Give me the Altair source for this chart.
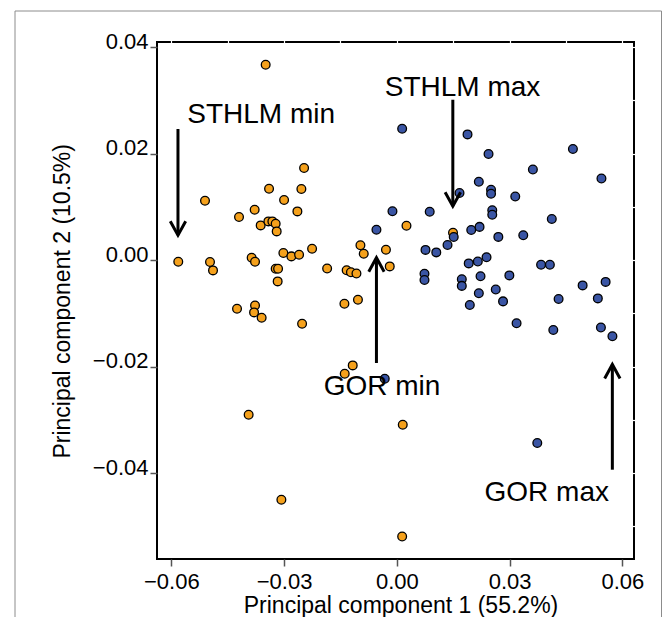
import altair as alt
import pandas as pd

# ---------------- data ----------------
orange_x = [-0.03489, -0.02467, -0.03399, -0.02539, -0.05103, -0.02999, -0.03782, -0.02645,
            -0.04198, -0.03622, -0.03417, -0.03311, -0.03223, -0.03196, -0.05814, -0.04970,
            -0.04890, -0.03862, -0.03772, -0.03018, -0.02805, -0.02600, -0.03223, -0.03159,
            -0.03170, -0.04251, -0.03772, -0.03798, -0.03596, -0.02520, -0.03942, -0.03071,
            0.00257, -0.02254, -0.00968, -0.00880, -0.00289, -0.00188, -0.01854, -0.01335,
            -0.01221, -0.01074, -0.01394, -0.01034, -0.01173, -0.01386, 0.00158, 0.00142,
            0.01495]
orange_y = [0.03668, 0.01728, 0.01339, 0.01333, 0.01114, 0.01127, 0.00945, 0.00913,
            0.00808, 0.00650, 0.00725, 0.00725, 0.00682, 0.00537, -0.00032, -0.00038,
            -0.00195, 0.00043, -0.00032, 0.00131, 0.00068, 0.00100, -0.00163, -0.00163,
            -0.00402, -0.00915, -0.00853, -0.00984, -0.01084, -0.01196, -0.02905, -0.04501,
            0.00644, 0.00212, 0.00278, 0.00118, 0.00193, -0.00120, -0.00158, -0.00192,
            -0.00229, -0.00252, -0.00821, -0.00746, -0.01979, -0.02135, -0.03093, -0.05191,
            0.00513]

blue_x = [0.00142, 0.01881, 0.02440, 0.04685, 0.03620, 0.05444, 0.02182, 0.02507,
          0.02507, 0.01668, 0.03151, -0.00116, 0.00875, 0.02539, 0.02539, 0.04123,
          -0.00542, 0.01514, 0.01980, 0.02201, 0.02701, 0.03364, 0.01349, 0.00763,
          0.01050, 0.01913, 0.02155, 0.02387, 0.03838, 0.04072, 0.00736, 0.00736,
          0.01729, 0.01729, 0.02227, 0.02994, 0.04943, 0.05555, 0.02182, 0.02632,
          0.02826, 0.01942, 0.04304, 0.05348, 0.03186, 0.04163, 0.05430, 0.05736,
          -0.00321, 0.03737]
blue_y = [0.02466, 0.02359, 0.01992, 0.02085, 0.01700, 0.01532, 0.01470, 0.01320,
          0.01245, 0.01258, 0.01192, 0.00916, 0.00907, 0.00935, 0.00851, 0.00770,
          0.00569, 0.00432, 0.00565, 0.00622, 0.00434, 0.00466, 0.00282, 0.00190,
          0.00143, -0.00064, -0.00028, 0.00053, -0.00088, -0.00088, -0.00257, -0.00374,
          -0.00361, -0.00486, -0.00304, -0.00289, -0.00477, -0.00411, -0.00623, -0.00554,
          -0.00777, -0.00845, -0.00732, -0.00721, -0.01187, -0.01313, -0.01266, -0.01431,
          -0.02229, -0.03437]

x_ticks = [-0.06, -0.03, 0.0, 0.03, 0.06]
y_ticks = [-0.04, -0.02, 0.0, 0.02, 0.04]
x_minor = [-0.06, -0.045, -0.03, -0.015, 0.0, 0.015, 0.03, 0.045, 0.06]
y_minor = [-0.05, -0.04, -0.03, -0.02, -0.01, 0.0, 0.01, 0.02, 0.03, 0.04]

label_text = ["STHLM min", "STHLM max", "GOR min", "GOR max"]
label_x = [-0.05574, -0.00321, -0.01945, 0.02334]
label_y = [0.02573, 0.03085, -0.02530, -0.04520]

arrow_x = [-0.05822, 0.01490, -0.00542, 0.05734]
arrow_start = [0.02460, 0.03010, -0.01934, -0.03938]
arrow_tip = [0.00466, 0.01010, 0.00043, -0.01961]
arrow_dir = ["down", "down", "up", "up"]

# ---------------- tables ----------------
points = pd.DataFrame({
    "pc1": orange_x + blue_x,
    "pc2": orange_y + blue_y,
    "group": ["orange"] * len(orange_x) + ["blue"] * len(blue_x),
})
labels = pd.DataFrame({"label": label_text, "x": label_x, "y": label_y})
arrows = pd.DataFrame({"x": arrow_x, "y1": arrow_start, "y2": arrow_tip, "dir": arrow_dir})

FONT = "Liberation Sans"
xs = alt.Scale(domain=[-0.0638, 0.0631], nice=False, zero=False)
ys = alt.Scale(domain=[-0.05615, 0.04094], nice=False, zero=False)

frame = alt.Chart(pd.DataFrame({"a": [0]})).mark_rect(
    fillOpacity=0, stroke="#8c8c8c", strokeWidth=1
).encode(x=alt.value(-142), x2=alt.value(504.5), y=alt.value(-31), y2=alt.value(600))

pts = alt.Chart(points).mark_circle(
    size=76, stroke="black", strokeWidth=1.3, opacity=1
).encode(
    x=alt.X("pc1:Q", scale=xs, axis=alt.Axis(
        orient="bottom", values=x_ticks, format=".2f", labelFlush=False,
        labelBaseline="alphabetic", labelPadding=22,
        title="Principal component 1 (55.2%)", titleX=243.5, titleY=53.5,
        titleBaseline="alphabetic")),
    y=alt.Y("pc2:Q", scale=ys, axis=alt.Axis(
        orient="left", values=y_ticks, format=".2f",
        labelBaseline="alphabetic", labelOffset=1, labelPadding=2,
        title="Principal component 2 (10.5%)", titleX=-88, titleY=258.8,
        titleBaseline="alphabetic")),
    color=alt.Color("group:N", scale=alt.Scale(domain=["orange", "blue"],
                                               range=["#F5A11C", "#3A55A4"]), legend=None),
)

txt = alt.Chart(labels).mark_text(
    align="left", baseline="alphabetic", fontSize=28, font=FONT, color="black"
).encode(
    x=alt.X("x:Q", scale=xs, axis=None),
    y=alt.Y("y:Q", scale=ys, axis=None),
    text="label:N",
)

shafts = alt.Chart(arrows).mark_rule(strokeWidth=3, color="black", strokeCap="butt").encode(
    x=alt.X("x:Q", scale=xs, axis=alt.Axis(
        orient="top", values=x_minor, labels=False, domain=False, title=None,
        tickColor="white", tickSize=3, tickWidth=1.2, offset=-1.5)),
    y=alt.Y("y1:Q", scale=ys, axis=alt.Axis(
        orient="right", values=y_minor, labels=False, domain=False, title=None,
        tickColor="white", tickSize=3, tickWidth=1.2, offset=-1.5)),
    y2="y2:Q",
)

down_path = "M-0.55,-1L0,0L0.55,-1"
up_path = "M-0.55,1L0,0L0.55,1"
heads = alt.Chart(arrows).mark_point(
    filled=False, size=784, strokeWidth=3, color="black", opacity=1,
    strokeJoin="miter", strokeMiterLimit=10
).encode(
    x=alt.X("x:Q", scale=xs, axis=None),
    y=alt.Y("y2:Q", scale=ys, axis=None),
    shape=alt.Shape("dir:N", scale=alt.Scale(domain=["down", "up"],
                                             range=[down_path, up_path]), legend=None),
)

chart = alt.layer(frame, pts, txt, shafts, heads).resolve_axis(
    x="independent", y="independent"
).properties(
    width=477, height=517,
    autosize=alt.AutoSizeParams(type="none"),
    padding={"left": 149, "top": 34, "right": 28, "bottom": 58},
).configure_axis(
    domain=False, grid=False,
    labelFont=FONT, titleFont=FONT,
    labelFontSize=22, titleFontSize=23,
    labelColor="black", titleColor="black", titleFontWeight="normal",
    tickColor="#555555", tickWidth=1.5, tickSize=7,
).configure_view(stroke="black", strokeWidth=2)

chart.save("out.html", embed_options={"renderer": "svg", "actions": False})
